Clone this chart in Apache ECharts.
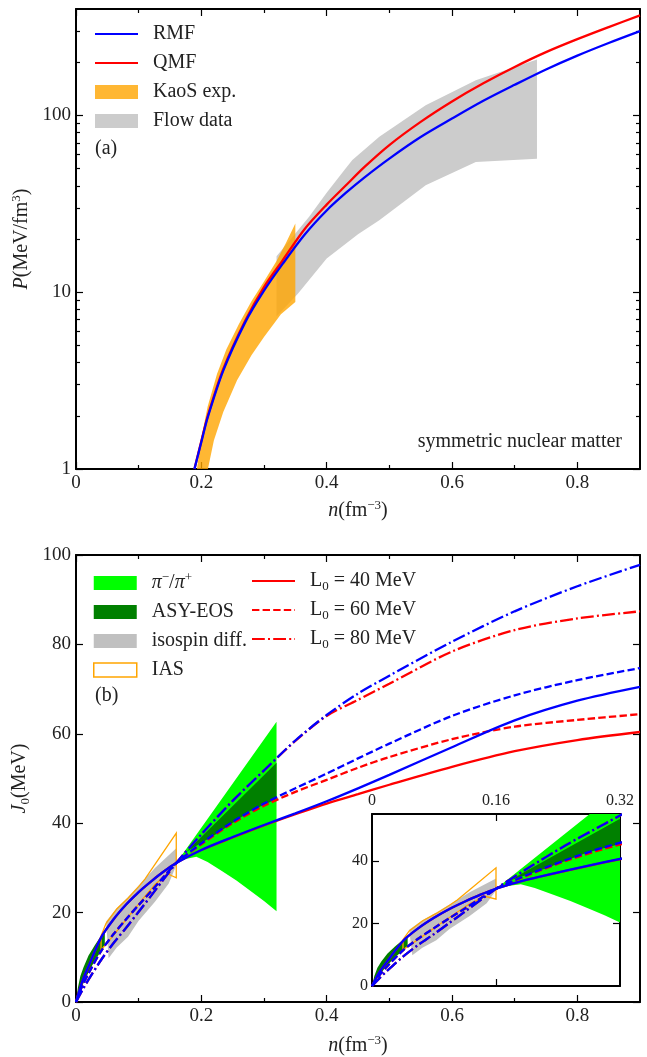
<!DOCTYPE html>
<html>
<head>
<meta charset="utf-8">
<script src="https://cdn.jsdelivr.net/npm/echarts@6/dist/echarts.min.js"></script>
<style>
html, body { margin: 0; padding: 0; background: #fff; }
#chart { width: 647px; height: 1057px; }
</style>
</head>
<body>
<div id="chart"></div>
<script>
// panel (a): pressure of symmetric nuclear matter
var nTop = [0.189, 0.2, 0.21, 0.235, 0.27, 0.3, 0.33, 0.365, 0.4, 0.43, 0.46, 0.5, 0.55, 0.6, 0.65, 0.7, 0.75, 0.8, 0.85, 0.9];
var pRMF = [1.0, 1.42, 1.95, 3.6, 6.75, 10.2, 14.5, 21.2, 29, 36.3, 44.5, 57, 75.5, 96, 121, 149, 182, 218, 257, 300];
var pQMF = [1.0, 1.44, 1.98, 3.68, 6.9, 10.7, 15.2, 22.8, 31.3, 40, 51, 68, 92, 120, 152, 188, 228, 270, 316, 368];
var kaosBand = [[0.193, 1], [0.2, 1.5], [0.21, 2.25], [0.225, 3.45], [0.24, 4.75], [0.26, 6.6], [0.28, 8.9], [0.3, 11.5],
    [0.32, 15], [0.335, 19], [0.35, 24.5], [0.35, 8.8], [0.327, 7.5], [0.3, 5.58], [0.28, 4.4], [0.257, 3.18],
    [0.235, 2.1], [0.22, 1.45], [0.2105, 1]];
var flowBand = [[0.32, 16], [0.35, 21.5], [0.372, 26.7], [0.4, 36.5], [0.428, 49], [0.441, 56], [0.484, 75.7],
    [0.558, 114], [0.638, 158], [0.7356, 207], [0.7356, 56.8], [0.638, 54.6], [0.558, 40.3], [0.484, 25.5],
    [0.45, 21.3], [0.4, 15.5], [0.354, 9.8], [0.32, 7.3]];

// panel (b): symmetry energy
var nSym = [0, 0.01, 0.02, 0.04, 0.06, 0.08, 0.1, 0.12, 0.14, 0.16, 0.2, 0.25, 0.3, 0.35, 0.4, 0.45, 0.5, 0.6, 0.7, 0.8, 0.9];
var jRMF40 = [0, 4.6, 8.0, 14.4, 18.5, 21.8, 24.6, 27.0, 29.2, 31.1, 34.0, 36.9, 39.6, 42.2, 44.9, 47.8, 50.8, 57.0, 63.0, 67.4, 70.5];
var jQMF40 = [0, 4.6, 8.0, 14.4, 18.5, 21.8, 24.6, 27.0, 29.2, 31.1, 34.0, 36.8, 39.5, 42.0, 44.4, 46.5, 48.6, 52.6, 56.1, 58.6, 60.4];
var jRMF60 = [0, 3.6, 6.4, 11.4, 15.2, 18.5, 21.7, 24.8, 28.0, 31.1, 35.5, 40.3, 44.4, 47.8, 51.1, 54.5, 57.8, 64.0, 68.6, 72.0, 74.7];
var jQMF60 = [0, 3.6, 6.4, 11.4, 15.2, 18.5, 21.7, 24.8, 28.0, 31.1, 35.3, 40.0, 43.9, 47.0, 49.7, 52.4, 54.8, 58.8, 61.6, 63.1, 64.4];
var jRMF80 = [0, 2.6, 5.0, 9.4, 13.2, 16.6, 20.2, 23.8, 27.5, 31.1, 37.5, 45.0, 51.8, 58.5, 64.2, 69.0, 73.0, 80.6, 87.4, 93.0, 97.8];
var jQMF80 = [0, 2.6, 5.0, 9.4, 13.2, 16.6, 20.2, 23.8, 27.5, 31.1, 37.5, 45.0, 51.8, 58.4, 64.0, 67.6, 71.2, 78.4, 83.2, 85.8, 87.4];
var pionBand = [[0.16, 31.1], [0.32, 62.7], [0.32, 20.3], [0.3, 22.6], [0.277, 25.0], [0.256, 27.2], [0.234, 29.2],
    [0.21, 31.3], [0.192, 32.5], [0.175, 32.0]];
var asyBand = [[0.176, 33.6], [0.32, 53.5], [0.32, 45.4], [0.277, 42.6], [0.224, 37.6]];
var asyLowBand = [[0, 0], [0.003, 3.2], [0.007, 5.8], [0.012, 7.8], [0.02, 10.4], [0.03, 12.7], [0.04, 14.8], [0.046, 15.9],
    [0.046, 12.8], [0.035, 10.3], [0.025, 8], [0.015, 5.2], [0.005, 2]];
var isoBand = [[0.048, 18], [0.065, 21], [0.083, 23.5], [0.105, 26.8], [0.126, 30], [0.16, 34.4], [0.16, 30.6],
    [0.148, 26.5], [0.126, 22.4], [0.1, 18.2], [0.083, 14.6], [0.065, 12.2], [0.052, 9.8]];
var iasBand = [[0.04, 11.6], [0.04, 14.8], [0.048, 17.6], [0.065, 20.8], [0.083, 23.2], [0.1, 25.8], [0.11, 27.5],
    [0.126, 30.8], [0.16, 37.8], [0.16, 27.8], [0.146, 28.7], [0.126, 26.3], [0.105, 22.8], [0.083, 19.0], [0.062, 15.3]];

// tick positions
var xMajor = [0, 0.2, 0.4, 0.6, 0.8];
var xMinor = [0.1, 0.3, 0.5, 0.7];
var pMajor = [1, 10, 100];
var pMinor = [2, 3, 4, 5, 6, 7, 8, 9, 20, 30, 40, 50, 60, 70, 80, 90, 200, 300];
var jMajor = [0, 20, 40, 60, 80, 100];
var insetX = [0, 0.16, 0.32];
var insetY = [0, 20, 40];

var FONT = 'Liberation Serif';
var TXT = '#222';

// rich text pieces for sub/superscripts and italics
var RICH = {
    m: { fontFamily: FONT, fontSize: 20, color: TXT, lineHeight: 24, verticalAlign: 'middle' },
    i: { fontFamily: FONT, fontSize: 20, color: TXT, lineHeight: 24, verticalAlign: 'middle', fontStyle: 'italic' },
    sub: { fontFamily: FONT, fontSize: 13, color: TXT, lineHeight: 13, verticalAlign: 'bottom' },
    sup: { fontFamily: FONT, fontSize: 13, color: TXT, lineHeight: 13, verticalAlign: 'top' }
};
var legendLabels = {
    'π⁻/π⁺': '{i|π}{sup|−}{m|/}{i|π}{sup|+}',
    'L₀ = 40 MeV': '{m|L}{sub|0}{m| = 40 MeV}',
    'L₀ = 60 MeV': '{m|L}{sub|0}{m| = 60 MeV}',
    'L₀ = 80 MeV': '{m|L}{sub|0}{m| = 80 MeV}'
};

var dom = document.getElementById('chart');
var myChart = echarts.init(dom);

function pairs(xs, ys) {
    return xs.map(function (x, i) { return [x, ys[i]]; });
}

// one axis; ticks point inward like the original
function axis(o) {
    var a = {
        type: o.type || 'value',
        gridIndex: o.grid,
        position: o.pos,
        min: o.min,
        max: o.max,
        splitLine: { show: false },
        axisLine: { show: o.line !== false, onZero: false, lineStyle: { color: '#000', width: 2 } },
        axisTick: {
            show: !!o.ticks, inside: true, length: o.len || 7, customValues: o.ticks,
            lineStyle: { color: '#000', width: 1.2 }
        },
        axisLabel: o.labels ? {
            show: true, customValues: o.labels, fontFamily: FONT, fontSize: o.fs || 19,
            color: TXT, margin: o.margin || 5
        } : { show: false }
    };
    if (o.type === 'log') a.logBase = 10;
    if (o.name) {
        a.name = o.name;
        a.nameLocation = 'middle';
        a.nameGap = o.gap;
        a.nameTextStyle = { fontFamily: FONT, fontSize: 20, color: TXT, rich: RICH };
    }
    return a;
}

function curve(name, xs, ys, color, dash, xi, yi, z) {
    return {
        type: 'line', name: name, xAxisIndex: xi, yAxisIndex: yi,
        data: pairs(xs, ys), symbol: 'none', smooth: 0.3,
        lineStyle: { color: color, width: 2.3, type: dash },
        itemStyle: { color: color }, z: z, silent: true
    };
}

function band(name, pts, fill, stroke, xi, yi, z) {
    return {
        type: 'custom', name: name, xAxisIndex: xi, yAxisIndex: yi, clip: true, silent: true, z: z,
        data: pts, encode: { x: 0, y: 1 },
        itemStyle: { color: fill || stroke },
        renderItem: function (params, api) {
            if (params.dataIndex !== 0) return null;
            return {
                type: 'polygon',
                shape: { points: pts.map(function (p) { return api.coord(p); }) },
                style: { fill: fill || 'none', stroke: stroke || null, lineWidth: stroke ? 1.3 : 0 }
            };
        }
    };
}

var DASH = [7.4, 3.2];
var DASHDOT = [12.8, 3.2, 2, 3.2];

function symSeries(xi, yi) {
    return [
        band('π⁻/π⁺', pionBand, '#00ff00', null, xi, yi, 1),
        band('ASY-EOS', asyBand, '#008000', null, xi, yi, 2),
        band('ASY-EOS', asyLowBand, '#008000', null, xi, yi, 2),
        band('isospin diff.', isoBand, '#c0c0c0', null, xi, yi, 3),
        band('IAS', iasBand, null, '#ffa500', xi, yi, 4),
        curve('L₀ = 40 MeV', nSym, jQMF40, '#ff0000', 'solid', xi, yi, 5),
        curve('L₀ = 60 MeV', nSym, jQMF60, '#ff0000', DASH, xi, yi, 5),
        curve('L₀ = 80 MeV', nSym, jQMF80, '#ff0000', DASHDOT, xi, yi, 5),
        curve('RMF 40', nSym, jRMF40, '#0000ff', 'solid', xi, yi, 6),
        curve('RMF 60', nSym, jRMF60, '#0000ff', DASH, xi, yi, 6),
        curve('RMF 80', nSym, jRMF80, '#0000ff', DASHDOT, xi, yi, 6)
    ];
}

function legend(left, top, items) {
    return {
        orient: 'vertical', left: left, top: top, padding: 0, itemWidth: 43, itemHeight: 14, itemGap: 5,
        selectedMode: false,
        textStyle: { fontFamily: FONT, fontSize: 20, color: TXT, lineHeight: 24, padding: [0, 0, 0, 10], rich: RICH },
        formatter: function (name) { return legendLabels[name] || ('{m|' + name + '}'); },
        data: items
    };
}
var noSymbol = { opacity: 0 };

var option = {
    animation: false,
    backgroundColor: '#fff',
    grid: [
        { left: 76, top: 9, width: 564, height: 460 },
        { left: 76, top: 555, width: 564, height: 452 },
        { left: 372, top: 814, width: 248, height: 172, show: true, backgroundColor: '#fff', borderWidth: 0 }
    ],
    xAxis: [
        axis({ grid: 0, pos: 'bottom', min: 0, max: 0.9, ticks: xMajor, labels: xMajor, name: '{i|n}{m|(fm}{sup|−3}{m|)}', gap: 30 }),
        axis({ grid: 0, pos: 'bottom', min: 0, max: 0.9, ticks: xMinor, len: 4, line: false }),
        axis({ grid: 0, pos: 'top', min: 0, max: 0.9, ticks: xMajor }),
        axis({ grid: 0, pos: 'top', min: 0, max: 0.9, ticks: xMinor, len: 4, line: false }),
        axis({ grid: 1, pos: 'bottom', min: 0, max: 0.9, ticks: xMajor, labels: xMajor, name: '{i|n}{m|(fm}{sup|−3}{m|)}', gap: 32 }),
        axis({ grid: 1, pos: 'bottom', min: 0, max: 0.9, ticks: xMinor, len: 4, line: false }),
        axis({ grid: 1, pos: 'top', min: 0, max: 0.9, ticks: xMajor }),
        axis({ grid: 1, pos: 'top', min: 0, max: 0.9, ticks: xMinor, len: 4, line: false }),
        axis({ grid: 2, pos: 'bottom', min: 0, max: 0.32, ticks: [0.16] }),
        axis({ grid: 2, pos: 'top', min: 0, max: 0.32, ticks: [0.16], labels: insetX, fs: 16, margin: 5 })
    ],
    yAxis: [
        axis({ type: 'log', grid: 0, pos: 'left', min: 1, max: 400, ticks: pMajor, labels: pMajor, name: '{i|P}{m|(MeV/fm}{sup|3}{m|)}', gap: 28 }),
        axis({ type: 'log', grid: 0, pos: 'left', min: 1, max: 400, ticks: pMinor, len: 4, line: false }),
        axis({ type: 'log', grid: 0, pos: 'right', min: 1, max: 400, ticks: pMajor }),
        axis({ type: 'log', grid: 0, pos: 'right', min: 1, max: 400, ticks: pMinor, len: 4, line: false }),
        axis({ grid: 1, pos: 'left', min: 0, max: 100, ticks: jMajor, labels: jMajor, name: '{i|J}{sub|0}{m|(MeV)}', gap: 28 }),
        axis({ grid: 1, pos: 'right', min: 0, max: 100, ticks: jMajor }),
        axis({ grid: 2, pos: 'left', min: 0, max: 55, ticks: [20, 40], labels: insetY, fs: 16, margin: 4 }),
        axis({ grid: 2, pos: 'right', min: 0, max: 55, ticks: [20, 40] })
    ],
    legend: [
        legend(94, 22, [
            { name: 'RMF', itemStyle: noSymbol }, { name: 'QMF', itemStyle: noSymbol },
            { name: 'KaoS exp.', icon: 'rect', itemStyle: { color: 'rgba(255,165,0,0.8)' } },
            { name: 'Flow data', icon: 'rect', itemStyle: { color: '#cccccc' } }
        ]),
        legend(93, 571, [
            { name: 'π⁻/π⁺', icon: 'rect', itemStyle: { color: '#00ff00' } },
            { name: 'ASY-EOS', icon: 'rect', itemStyle: { color: '#008000' } },
            { name: 'isospin diff.', icon: 'rect', itemStyle: { color: '#c0c0c0' } },
            { name: 'IAS', icon: 'rect', itemStyle: { color: 'rgba(0,0,0,0)', borderColor: '#ffa500', borderWidth: 1.5 } }
        ]),
        legend(251, 569, [
            { name: 'L₀ = 40 MeV', itemStyle: noSymbol },
            { name: 'L₀ = 60 MeV', itemStyle: noSymbol },
            { name: 'L₀ = 80 MeV', itemStyle: noSymbol }
        ])
    ],
    graphic: [
        { type: 'text', left: 95, top: 139, style: { text: '(a)', font: '20px "Liberation Serif"', fill: TXT } },
        { type: 'text', left: 95, top: 686, style: { text: '(b)', font: '20px "Liberation Serif"', fill: TXT } },
        { type: 'text', right: 25, top: 432, style: { text: 'symmetric nuclear matter', font: '20px "Liberation Serif"', fill: TXT } }
    ],
    series: [
        band('Flow data', flowBand, '#cccccc', null, 0, 0, 1),
        band('KaoS exp.', kaosBand, 'rgba(255,165,0,0.8)', null, 0, 0, 2),
        curve('QMF', nTop, pQMF, '#ff0000', 'solid', 0, 0, 3),
        curve('RMF', nTop, pRMF, '#0000ff', 'solid', 0, 0, 4)
    ].concat(symSeries(4, 4)).concat(symSeries(8, 6))
};

myChart.setOption(option);
</script>
</body>
</html>
